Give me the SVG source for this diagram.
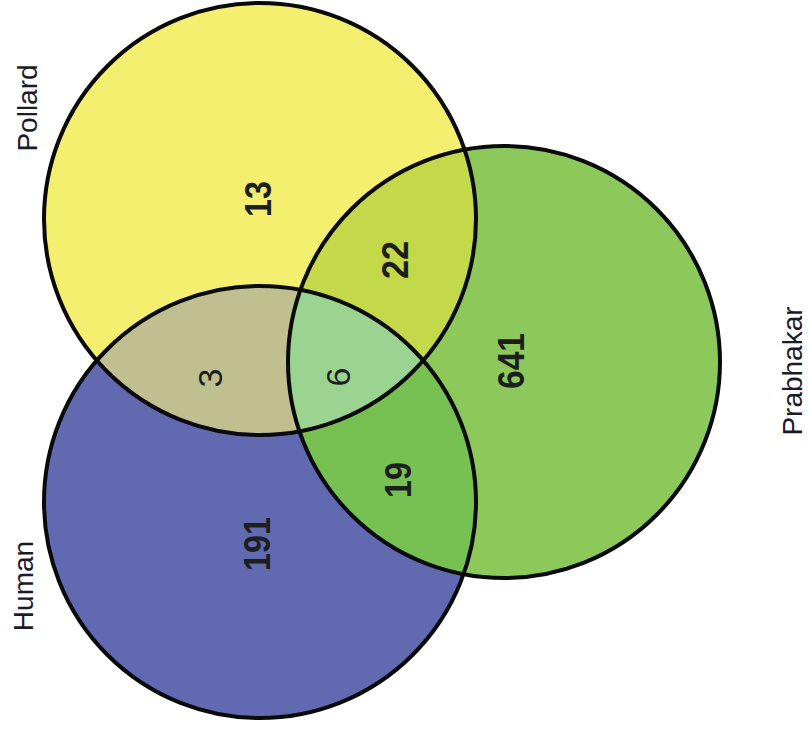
<svg xmlns="http://www.w3.org/2000/svg" width="809" height="731" viewBox="0 0 809 731">
<style>
.ring{fill:none;stroke:#0a0a0a;stroke-width:4}
.num{font-family:"Liberation Sans",Arial,sans-serif;font-size:36px;font-weight:bold;fill:#1e1e1e}
.numr{font-family:"Liberation Sans",Arial,sans-serif;font-size:34px;fill:#1e1e1e}
.lbl{font-family:"Liberation Sans",Arial,sans-serif;font-size:28px;fill:#1a1a2a}
</style>
<defs>
<clipPath id="cY"><circle cx="260" cy="219" r="216"/></clipPath>
<clipPath id="cB"><circle cx="260" cy="502" r="216"/></clipPath>
<clipPath id="cG"><circle cx="504" cy="362" r="216"/></clipPath>
</defs>
<rect width="809" height="731" fill="#ffffff"/>
<g id="fills">
<circle cx="260" cy="219" r="216" fill="#F5EF6F"/>
<circle cx="504" cy="362" r="216" fill="#8CC95A"/>
<circle cx="260" cy="502" r="216" fill="#6169B0"/>
<g clip-path="url(#cY)"><circle cx="504" cy="362" r="216" fill="#C4D94A"/></g>
<g clip-path="url(#cY)"><circle cx="260" cy="502" r="216" fill="#BFBF90"/></g>
<g clip-path="url(#cB)"><circle cx="504" cy="362" r="216" fill="#77C152"/></g>
<g clip-path="url(#cB)"><g clip-path="url(#cG)"><circle cx="260" cy="219" r="216" fill="#9BD490"/></g></g>
</g>
<g id="pollard"><circle class="ring" cx="260" cy="219" r="216"/><text class="lbl" text-anchor="middle" transform="translate(37,108) rotate(-90)">Pollard</text></g>
<g id="prabhakar"><circle class="ring" cx="504" cy="362" r="216"/><text class="lbl" text-anchor="middle" transform="translate(802,371) rotate(-90)">Prabhakar</text></g>
<g id="human"><circle class="ring" cx="260" cy="502" r="216"/><text class="lbl" text-anchor="middle" transform="translate(33,586) rotate(-90)">Human</text></g>
<g id="counts">
<text class="num" text-anchor="middle" textLength="36" lengthAdjust="spacingAndGlyphs" transform="translate(271,199) rotate(-90)">13</text>
<text class="num" text-anchor="middle" textLength="38" lengthAdjust="spacingAndGlyphs" transform="translate(408,260) rotate(-90)">22</text>
<text class="num" text-anchor="middle" textLength="56" lengthAdjust="spacingAndGlyphs" transform="translate(524,361) rotate(-90)">641</text>
<text class="numr" text-anchor="middle" transform="translate(222,378) rotate(-90)">3</text>
<text class="numr" text-anchor="middle" transform="translate(350,377) rotate(-90)">6</text>
<text class="num" text-anchor="middle" textLength="36" lengthAdjust="spacingAndGlyphs" transform="translate(411,480) rotate(-90)">19</text>
<text class="num" text-anchor="middle" textLength="54" lengthAdjust="spacingAndGlyphs" transform="translate(270,544) rotate(-90)">191</text>
</g>
</svg>
